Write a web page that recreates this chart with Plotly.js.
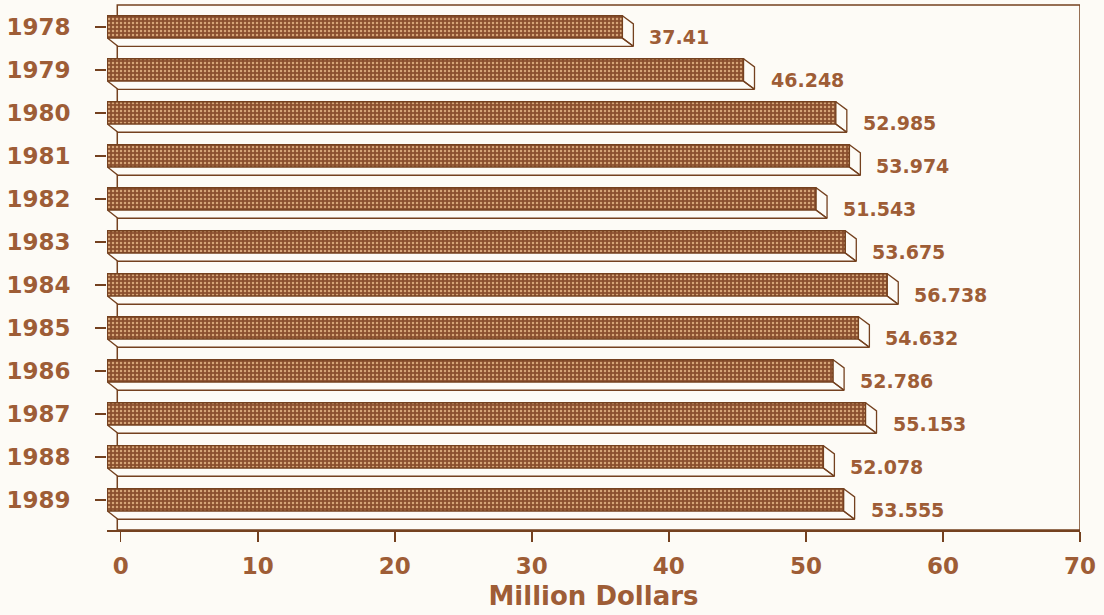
<!DOCTYPE html>
<html>
<head>
<meta charset="utf-8">
<script src="https://cdn.plot.ly/plotly-3.0.1.min.js"></script>
<style>
  html, body { margin: 0; padding: 0; background: #fdfbf6; }
  #chart { width: 1104px; height: 615px; }
</style>
</head>
<body>
<div id="chart"></div>
<script>
// ---- data ----
const years = ['1978', '1979', '1980', '1981', '1982', '1983', '1984', '1985', '1986', '1987', '1988', '1989'];
const values = [37.41, 46.248, 52.985, 53.974, 51.543, 53.675, 56.738, 54.632, 52.786, 55.153, 52.078, 53.555];
const valueLabels = ['37.41', '46.248', '52.985', '53.974', '51.543', '53.675', '56.738', '54.632', '52.786', '55.153', '52.078', '53.555'];
const xTicks = [0, 10, 20, 30, 40, 50, 60, 70];

// ---- style / geometry constants ----
const TEXT = '#9e5d36';
const LINE = '#74411f';
const FONT = 'DejaVu Sans';
const DX = 0.8;        // depth along value axis (data units)
const DY = 0.19;       // depth along category axis (category units)
const HALF = 0.26;     // half bar thickness
const FRONT_LEFT = -0.97;
const BACK_LEFT = -0.2;

const idx = years.map((_, i) => i);

// side faces (right cap + bottom face) of the 3D bars
const sx = [], sy = [];
values.forEach((v, i) => {
  const yt = i - HALF, yb = i + HALF;
  // right cap
  sx.push(v - DX, v, v, v - DX, v - DX, null);
  sy.push(yt, yt + DY, yb + DY, yb, yt, null);
  // bottom face
  sx.push(FRONT_LEFT, v - DX, v, BACK_LEFT, FRONT_LEFT, null);
  sy.push(yb, yb, yb + DY, yb + DY, yb, null);
});

const sides = {
  type: 'scatter', mode: 'lines', x: sx, y: sy,
  fill: 'toself', fillcolor: '#fdfbf6',
  line: { color: LINE, width: 1.3 },
  hoverinfo: 'skip', showlegend: false
};

const front = {
  type: 'bar', orientation: 'h',
  y: idx,
  base: FRONT_LEFT,
  x: values.map(v => v - DX - FRONT_LEFT),
  width: 2 * HALF,
  marker: {
    color: '#8a4f2e',
    pattern: { shape: '.', bgcolor: '#8a4f2e', fgcolor: '#d6a477', size: 4, solidity: 0.3, fillmode: 'replace' },
    line: { color: LINE, width: 1.3 }
  },
  hoverinfo: 'skip', showlegend: false
};

const annotations = values.map((v, i) => ({
  x: v, y: i, xref: 'x', yref: 'y',
  text: valueLabels[i], showarrow: false,
  xanchor: 'left', yanchor: 'middle',
  xshift: 14, yshift: -10.5,
  font: { family: FONT, size: 19, color: TEXT, weight: 'bold' }
}));

const layout = {
  width: 1104, height: 615,
  margin: { l: 107, r: 24, t: 5, b: 85, pad: 0 },
  paper_bgcolor: '#fdfbf6', plot_bgcolor: '#fdfbf6',
  showlegend: false,
  bargap: 0,
  xaxis: {
    range: [-1, 70], tickvals: xTicks, ticktext: xTicks.map(String),
    showgrid: false, zeroline: false,
    showline: true, linecolor: LINE, linewidth: 1.8,
    ticks: 'outside', ticklen: 10, tickwidth: 1.5, tickcolor: LINE,
    tickfont: { family: FONT, size: 23, color: TEXT, weight: 'bold' },
    ticklabelstandoff: 5,
    title: { text: 'Million Dollars', font: { family: FONT, size: 26, color: TEXT, weight: 'bold' }, standoff: 8 },
    layer: 'below traces', fixedrange: true, automargin: false
  },
  yaxis: {
    range: [11.7, -0.51], tickvals: idx, ticktext: years,
    showgrid: false, zeroline: false, showline: false,
    ticks: 'outside', ticklen: 11, tickwidth: 1.5, tickcolor: LINE,
    tickfont: { family: FONT, size: 23, color: TEXT, weight: 'bold' },
    ticklabelstandoff: 20,
    layer: 'below traces', fixedrange: true, automargin: false
  },
  shapes: [{
    type: 'rect', xref: 'x', yref: 'paper',
    x0: BACK_LEFT - 0.05, x1: 70, y0: 0, y1: 1,
    line: { color: LINE, width: 1.5 }, layer: 'below'
  }],
  annotations: annotations
};

Plotly.newPlot('chart', [front, sides], layout, { displayModeBar: false, staticPlot: true });
</script>
</body>
</html>
